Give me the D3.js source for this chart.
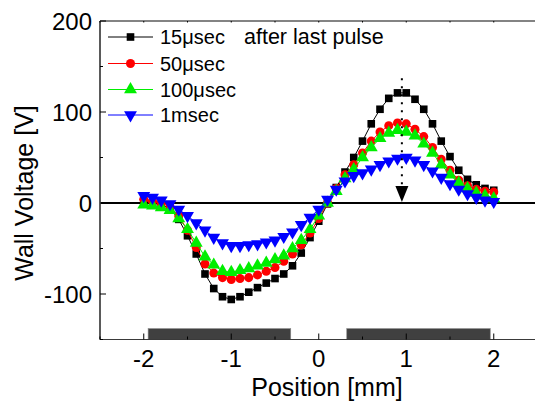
<!DOCTYPE html>
<html>
<head>
<meta charset="utf-8">
<script src="https://cdn.jsdelivr.net/npm/d3@7"></script>
<style>
  body{
    margin: 0;
    padding: 0;
    background: #fff;
  }
  svg{
    display: block;
    font-family: "Liberation Sans", Arial, sans-serif;
  }
</style>
</head>
<body>
<div id="chart"></div>
<script>
// positions along the cell [mm]
const positions = [-2.0,-1.9,-1.8,-1.7,-1.6,-1.5,-1.4,-1.3,-1.2,-1.1,-1.0,-0.9,-0.8,-0.7,-0.6,-0.5,-0.4,-0.3,-0.2,-0.1,
  0.0,0.1,0.2,0.3,0.4,0.5,0.6,0.7,0.8,0.9,1.0,1.1,1.2,1.3,1.4,1.5,1.6,1.7,1.8,1.9,2.0];

// wall voltage [V] per delay after last pulse
const v15us = [2,0,-2,-6,-18,-36,-56,-78,-94,-103,-106,-103,-98,-93,-88,-83,-78,-69,-55,-38,
  -20,-1,17,34,50,68,87,103,115,121,121,114,103,87,68,51,36,26,20,16,14];
const v50us = [4,2,0,-4,-14,-30,-49,-67,-77,-82,-84,-83,-82,-79,-75,-71,-64,-56,-46,-33,
  -17,0,16,31,42,55,68,78,85,88,87,81,73,61,48,36,25,19,15,13,12];
const v100us = [-2,-3,-5,-8,-17,-29,-44,-59,-68,-75,-76,-74,-72,-69,-66,-62,-58,-50,-41,-29,
  -14,0,13,27,37,50,61,71,77,80,78,74,65,55,42,31,22,16,11,8,5];
const v1ms = [8,6,3,-1,-7,-14,-22,-30,-38,-44,-47,-47,-46,-45,-43,-41,-37,-32,-24,-16,
  -7,4,15,24,30,33,37,42,46,49,50,47,42,35,28,21,15,10,6,3,1.5];

const seriesNames = ["15\u03bcsec", "50\u03bcsec", "100\u03bcsec", "1msec"];
const seriesValues = [v15us, v50us, v100us, v1ms];
const seriesColors = ["#000000", "#ff0000", "#00ee00", "#0000ff"];
const seriesSymbols = [d3.symbolSquare, d3.symbolCircle, d3.symbolTriangle, d3.symbolTriangle];

// electrodes drawn under the axis [mm]
const electrodes = [[-1.95, -0.32], [0.32, 1.96]];

const xTicks = [-2, -1, 0, 1, 2];
const xMinorTicks = [-2.5, -1.5, -0.5, 0.5, 1.5, 2.5];
const yTicks = [-100, 0, 100, 200];
const yMinorTicks = [-150, -50, 50, 150];

// arrow marking the peak
const arrowX = 0.95;
const arrowFrom = 137;
const arrowTo = 0;

var width = 535;
var height = 403;

var x = d3.scaleLinear()
    .domain([-2.5, 2.5])
    .range([100, 537.5]);

var y = d3.scaleLinear()
    .domain([-150, 200])
    .range([339.5, 21]);

var svg = d3.select("#chart")
    .append("svg")
    .attr("width", width)
    .attr("height", height);

/*
Electrode bars
*/
svg.selectAll("rect.electrode")
    .data(electrodes)
    .enter()
    .append("rect")
    .attr("class", "electrode")
    .attr("x", (d) => x(d[0]))
    .attr("y", y(-138))
    .attr("width", (d) => x(d[1]) - x(d[0]))
    .attr("height", y(-150) - y(-138))
    .attr("fill", "#404040")
    .attr("stroke", "#8a8a8a")
    .attr("stroke-width", 0.6);

/*
Zero line
*/
svg.append("line")
    .attr("x1", x(-2.5))
    .attr("x2", x(2.5))
    .attr("y1", y(0))
    .attr("y2", y(0))
    .attr("stroke", "#000")
    .attr("stroke-width", 2);

/*
Frame and ticks
*/
var frame = svg.append("g");

frame.append("line")
    .attr("x1", x(-2.5)).attr("x2", x(2.5))
    .attr("y1", y(200)).attr("y2", y(200))
    .attr("stroke", "#5a5a5a").attr("stroke-width", 1.6);

frame.append("line")
    .attr("x1", x(-2.5)).attr("x2", x(2.5))
    .attr("y1", y(-150)).attr("y2", y(-150))
    .attr("stroke", "#3a3a3a").attr("stroke-width", 1.2);

frame.append("line")
    .attr("x1", x(-2.5)).attr("x2", x(-2.5))
    .attr("y1", y(200)).attr("y2", y(-150))
    .attr("stroke", "#5a5a5a").attr("stroke-width", 2);

// bottom ticks point into the plot
frame.selectAll("line.xmajor")
    .data(xTicks)
    .enter()
    .append("line")
    .attr("x1", (d) => x(d)).attr("x2", (d) => x(d))
    .attr("y1", y(-150)).attr("y2", y(-150) - 6)
    .attr("stroke", "#000").attr("stroke-width", 1);

frame.selectAll("line.xminor")
    .data(xMinorTicks)
    .enter()
    .append("line")
    .attr("x1", (d) => x(d)).attr("x2", (d) => x(d))
    .attr("y1", y(-150)).attr("y2", y(-150) - 3)
    .attr("stroke", "#000").attr("stroke-width", 1);

// top ticks
frame.selectAll("line.xtop")
    .data(xTicks.concat(xMinorTicks))
    .enter()
    .append("line")
    .attr("x1", (d) => x(d)).attr("x2", (d) => x(d))
    .attr("y1", y(200)).attr("y2", y(200) + 1.5)
    .attr("stroke", "#000").attr("stroke-width", 1);

frame.selectAll("line.ymajor")
    .data(yTicks)
    .enter()
    .append("line")
    .attr("x1", x(-2.5)).attr("x2", x(-2.5) + 6)
    .attr("y1", (d) => y(d)).attr("y2", (d) => y(d))
    .attr("stroke", "#000").attr("stroke-width", 1);

frame.selectAll("line.yminor")
    .data(yMinorTicks)
    .enter()
    .append("line")
    .attr("x1", x(-2.5)).attr("x2", x(-2.5) + 3)
    .attr("y1", (d) => y(d)).attr("y2", (d) => y(d))
    .attr("stroke", "#000").attr("stroke-width", 1);

/*
Tick labels and titles
*/
svg.selectAll("text.xlabel")
    .data(xTicks)
    .enter()
    .append("text")
    .attr("x", (d) => x(d))
    .attr("y", 366.5)
    .attr("text-anchor", "middle")
    .attr("font-size", 24)
    .text((d) => d);

svg.selectAll("text.ylabel")
    .data(yTicks)
    .enter()
    .append("text")
    .attr("x", 92)
    .attr("y", (d) => y(d) + 8.5)
    .attr("text-anchor", "end")
    .attr("font-size", 24)
    .text((d) => d);

svg.append("text")
    .attr("x", 327)
    .attr("y", 396)
    .attr("text-anchor", "middle")
    .attr("font-size", 25)
    .text("Position [mm]");

svg.append("text")
    .attr("transform", "translate(33,193) rotate(-90)")
    .attr("text-anchor", "middle")
    .attr("font-size", 25)
    .text("Wall Voltage [V]");

/*
Series: lines then markers, 15us at the bottom, 1ms on top
*/
var symbolSize = [58, 64, 72, 72];

seriesValues.forEach(function(vals, i){
  var pts = positions.map((p, j) => [p, vals[j]]);
  var g = svg.append("g");

  g.append("path")
      .datum(pts)
      .attr("fill", "none")
      .attr("stroke", seriesColors[i])
      .attr("stroke-width", 1)
      .attr("d", d3.line()
          .x((d) => x(d[0]))
          .y((d) => y(d[1]))
      );

  g.selectAll("path.pt")
      .data(pts)
      .enter()
      .append("path")
      .attr("class", "pt")
      .attr("transform", (d) => "translate(" + x(d[0]) + "," + y(d[1]) + ")" + (i === 3 ? " rotate(180)" : ""))
      .attr("d", d3.symbol().type(seriesSymbols[i]).size(symbolSize[i]))
      .attr("fill", seriesColors[i]);
});

/*
Dotted arrow at the peak
*/
svg.append("line")
    .attr("x1", x(arrowX)).attr("x2", x(arrowX))
    .attr("y1", y(arrowFrom)).attr("y2", y(arrowTo) - 16)
    .attr("stroke", "#000")
    .attr("stroke-width", 2)
    .attr("stroke-dasharray", "2,6");

svg.append("path")
    .attr("d", "M" + (x(arrowX) - 6.5) + "," + (y(arrowTo) - 17) +
               "L" + (x(arrowX) + 6.5) + "," + (y(arrowTo) - 17) +
               "L" + x(arrowX) + "," + (y(arrowTo) - 1) + "Z")
    .attr("fill", "#000");

/*
Legend
*/
var legendRows = [37, 63.5, 89.5, 115];
var legend = svg.append("g");

seriesNames.forEach(function(name, i){
  var row = legend.append("g")
      .attr("transform", "translate(0," + legendRows[i] + ")");
  row.append("line")
      .attr("x1", 108).attr("x2", 153)
      .attr("y1", 0).attr("y2", 0)
      .attr("stroke", seriesColors[i])
      .attr("stroke-width", 1);
  row.append("path")
      .attr("transform", "translate(130.5,0)" + (i === 3 ? " rotate(180)" : ""))
      .attr("d", d3.symbol().type(seriesSymbols[i]).size(symbolSize[i]))
      .attr("fill", seriesColors[i]);
  row.append("text")
      .attr("x", 160)
      .attr("y", 7)
      .attr("font-size", 20)
      .text(name);
});

legend.append("text")
    .attr("x", 244)
    .attr("y", legendRows[0] + 7)
    .attr("font-size", 21.5)
    .text("after last pulse");
</script>
</body>
</html>
